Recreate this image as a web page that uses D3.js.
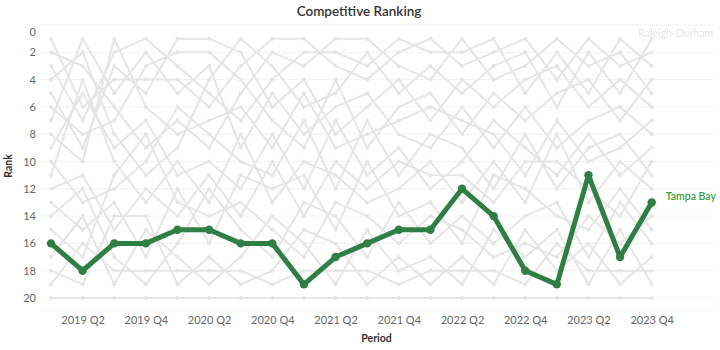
<!DOCTYPE html>
<html><head><meta charset="utf-8">
<script src="https://cdn.jsdelivr.net/npm/d3@7"></script>
<style>body{margin:0;background:#fff}svg{display:block;font-family:Lato,"Open Sans",sans-serif}</style>
</head><body><svg id="c" width="720" height="350"></svg>
<script>
const periods = ["2019 Q1","2019 Q2","2019 Q3","2019 Q4","2020 Q1","2020 Q2","2020 Q3","2020 Q4","2021 Q1","2021 Q2","2021 Q3","2021 Q4","2022 Q1","2022 Q2","2022 Q3","2022 Q4","2023 Q1","2023 Q2","2023 Q3","2023 Q4"];
const tickLabels = ["2019 Q2","2019 Q4","2020 Q2","2020 Q4","2021 Q2","2021 Q4","2022 Q2","2022 Q4","2023 Q2","2023 Q4"];
const rankTicks = [0,2,4,6,8,10,12,14,16,18,20];
const highlightName = "Tampa Bay";
const tampaBay = [16,18,16,16,15,15,16,16,19,17,16,15,15,12,14,18,19,11,17,13];
const labeledGreyName = "Raleigh-Durham";
const atlanta      = [1,6,4,4,4,6,3,1,1,3,4,2,1,3,2,1,4,1,3,2];
const austin       = [2,3,6,9,7,9,5,2,3,1,1,3,4,1,4,3,1,3,2,5];
const charlotte    = [3,7,2,1,3,5,7,4,2,2,3,1,2,2,1,5,2,5,1,3];
const raleigh      = [4,2,8,11,9,4,1,3,6,5,2,5,3,5,3,2,6,2,5,1];
const dallas       = [5,9,3,5,1,1,2,6,4,8,6,4,7,4,6,4,3,6,4,6];
const denver       = [6,8,7,3,2,2,4,7,9,4,9,6,5,8,5,7,5,4,7,4];
const houston      = [7,1,5,2,5,3,9,5,8,6,5,8,9,6,9,6,9,7,6,8];
const jacksonville = [8,10,1,6,8,7,6,9,5,9,8,7,6,7,8,11,7,10,9,7];
const miami        = [9,5,9,7,11,10,12,8,12,7,11,9,12,10,7,9,11,8,11,9];
const nashville    = [10,13,12,10,6,8,10,11,7,12,7,11,8,9,12,8,12,9,8,11];
const orlando      = [11,4,10,13,10,13,8,13,10,11,13,12,10,13,10,13,8,13,10,12];
const phoenix      = [12,11,15,12,14,11,14,10,14,10,12,10,11,11,13,10,10,12,14,10];
const richmond     = [13,15,13,17,12,16,11,12,11,15,10,14,13,16,11,12,14,15,12,15];
const saltLake     = [14,12,17,19,16,12,15,17,13,14,17,13,16,14,16,14,13,17,13,16];
const sanAntonio   = [15,17,11,8,13,14,13,15,17,13,14,16,14,15,17,16,17,14,16,14];
const seattle      = [17,14,19,15,17,19,17,14,16,19,15,18,17,19,15,17,15,19,15,19];
const boston       = [18,19,14,14,19,17,19,18,15,16,19,17,19,17,19,15,18,16,19,17];
const chicago      = [19,16,18,18,18,18,18,19,18,18,18,19,18,18,18,19,16,18,18,18];
const columbus     = [20,20,20,20,20,20,20,20,20,20,20,20,20,20,20,20,20,20,20,20];
const greyNames = ["Atlanta","Austin","Charlotte","Raleigh-Durham","Dallas","Denver","Houston","Jacksonville","Miami","Nashville","Orlando","Phoenix","Richmond","Salt Lake City","San Antonio","Seattle","Boston","Chicago","Columbus"];
const greyValues = [atlanta,austin,charlotte,raleigh,dallas,denver,houston,jacksonville,miami,nashville,orlando,phoenix,richmond,saltLake,sanAntonio,seattle,boston,chicago,columbus];

const svg = d3.select("#c");
const plotL = 40, plotR = 713;
const x = d3.scalePoint().domain(periods).range([51, 651.7]);
const y = d3.scaleLinear().domain([0, 20]).range([25, 298]);

// gridlines
svg.append("g").selectAll("line").data(rankTicks).join("line")
  .attr("x1", plotL).attr("x2", plotR)
  .attr("y1", d => y(d)).attr("y2", d => y(d))
  .attr("stroke", d => d === 0 ? "#e4e4e4" : "#f2f2f2").attr("stroke-width", 1)
  .attr("stroke-dasharray", d => d === 0 ? "1,1" : null);
svg.append("line").attr("x1", plotL).attr("x2", plotR).attr("y1", 310).attr("y2", 310)
  .attr("stroke", "#f2f2f2");

// y axis labels
const yAxis = d3.axisLeft(y).tickValues(rankTicks).tickSize(0).tickPadding(0);
const yg = svg.append("g").attr("transform", `translate(36,0)`).call(yAxis);
yg.select(".domain").remove();
yg.selectAll("text").attr("font-size", 11).attr("fill", "#666").attr("font-family", "Lato, sans-serif")
  .attr("dy", d => d === 0 ? "0.95em" : "0.32em");

// x axis labels
const xAxis = d3.axisBottom(x).tickValues(tickLabels).tickSize(0).tickPadding(0);
const xg = svg.append("g").attr("transform", `translate(0,316)`).call(xAxis);
xg.select(".domain").remove();
xg.selectAll("text").attr("font-size", 11).attr("fill", "#666").attr("font-family", "Lato, sans-serif").attr("dy", "0.71em");

// titles
svg.append("text").attr("x", 359).attr("y", 16).attr("text-anchor", "middle")
  .attr("font-size", 13.5).attr("font-weight", 600).attr("fill", "#333").text("Competitive Ranking");
svg.append("text").attr("x", 376.5).attr("y", 342).attr("text-anchor", "middle")
  .attr("font-size", 10.5).attr("font-weight", 700).attr("fill", "#333").text("Period");
svg.append("text").attr("transform", "translate(12,166) rotate(-90)").attr("text-anchor", "middle")
  .attr("font-size", 10.5).attr("font-weight", 700).attr("fill", "#333").text("Rank");

const line = d3.line().x((d, i) => x(periods[i])).y(d => y(d));

// grey series
const gg = svg.append("g");
greyValues.forEach((vals) => {
  gg.append("path").datum(vals).attr("d", line).attr("fill", "none")
    .attr("stroke", "#e5e5e5").attr("stroke-width", 2).attr("stroke-linejoin", "round");
});
greyValues.forEach((vals) => {
  gg.append("g").selectAll("circle").data(vals).join("circle")
    .attr("cx", (d, i) => x(periods[i])).attr("cy", d => y(d)).attr("r", 2)
    .attr("fill", "#e5e5e5");
});

// highlight series
svg.append("path").datum(tampaBay).attr("d", line).attr("fill", "none")
  .attr("stroke", "#2f7f44").attr("stroke-width", 5).attr("stroke-linejoin", "round");
svg.append("g").selectAll("circle").data(tampaBay).join("circle")
  .attr("cx", (d, i) => x(periods[i])).attr("cy", d => y(d)).attr("r", 4.2)
  .attr("fill", "#2f7f44");

// end labels
const last = periods[periods.length - 1];
svg.append("text").attr("x", x(last) + 14).attr("y", y(tampaBay[tampaBay.length - 1]) - 2)
  .attr("font-size", 10.5).attr("font-weight", 600).attr("fill", "#3c9c3c").text(highlightName);
const rIdx = greyNames.indexOf(labeledGreyName);
svg.append("text").attr("x", 713).attr("y", y(greyValues[rIdx][19]) - 1.5).attr("text-anchor", "end")
  .attr("font-size", 10.5).attr("fill", "#e6e6e6").text(labeledGreyName);
</script></body></html>
